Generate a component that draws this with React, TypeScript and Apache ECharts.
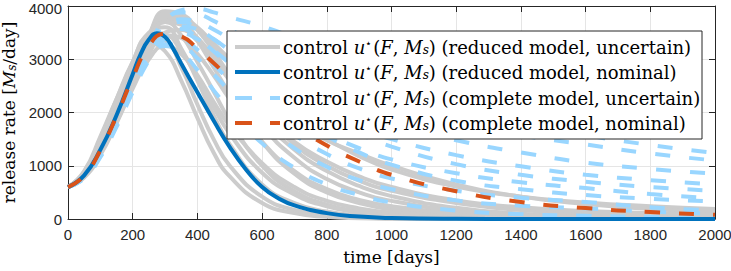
import React, { useEffect, useRef } from "react";
import * as echarts from "echarts";

const times = [0, 50, 100, 150, 200, 250, 300, 350, 400, 450, 500, 600, 700, 800, 900, 1000, 1200, 1400, 1600, 1800, 2000];

// reduced model, nominal (own, finer time grid around the peak)
const reducedNominalTimes = [0, 50, 100, 150, 200, 225, 250, 275, 300, 325, 350, 400, 450, 500, 550, 600, 650, 700, 800, 900, 1000, 1200, 1400, 1600, 1800, 2000];
const reducedNominal = [600, 820, 1300, 1950, 2720, 3100, 3370, 3490, 3420, 3200, 2920, 2380, 1850, 1350, 930, 600, 390, 255, 110, 45, 18, 3, 0, 0, 0, 0];
// complete model, nominal
const completeNominal = [600, 810, 1290, 1930, 2650, 3250, 3480, 3430, 3200, 2930, 2650, 2180, 1760, 1380, 1080, 830, 520, 320, 205, 130, 80];

// reduced model, uncertain
const reducedU1 = [600, 900, 1550, 2250, 2900, 3300, 3150, 2600, 1900, 1250, 800, 300, 110, 40, 15, 5, 0, 0, 0, 0, 0];
const reducedU2 = [600, 880, 1500, 2250, 2950, 3400, 3350, 2850, 2150, 1500, 1000, 420, 170, 70, 28, 10, 2, 0, 0, 0, 0];
const reducedU3 = [600, 860, 1450, 2200, 2950, 3500, 3600, 3200, 2600, 1950, 1400, 650, 300, 140, 65, 30, 6, 1, 0, 0, 0];
const reducedU4 = [600, 850, 1400, 2100, 2850, 3450, 3700, 3450, 2950, 2400, 1850, 1000, 520, 270, 140, 75, 22, 7, 2, 0, 0];
const reducedU5 = [600, 840, 1380, 2050, 2800, 3450, 3850, 3750, 3350, 2850, 2350, 1450, 850, 500, 300, 180, 70, 28, 12, 5, 2];
const reducedU6 = [600, 830, 1350, 2000, 2750, 3450, 3900, 3850, 3550, 3150, 2700, 1900, 1300, 900, 620, 430, 210, 100, 50, 25, 12];
const reducedU7 = [600, 820, 1320, 1950, 2700, 3400, 3850, 3800, 3600, 3300, 3000, 2400, 1900, 1500, 1180, 930, 610, 420, 310, 240, 190];
const reducedU8 = [600, 780, 1200, 1800, 2450, 3000, 3250, 3100, 2700, 2200, 1750, 1050, 600, 340, 200, 120, 45, 18, 7, 3, 1];
const reducedU9 = [600, 800, 1250, 1850, 2550, 3150, 3450, 3400, 3100, 2700, 2250, 1450, 900, 560, 360, 240, 110, 55, 28, 15, 8];
const reducedU10 = [600, 790, 1230, 1820, 2500, 3100, 3500, 3550, 3350, 3050, 2700, 2000, 1400, 1000, 720, 530, 300, 170, 100, 60, 35];
const reducedU11 = [600, 810, 1300, 1950, 2700, 3350, 3750, 3750, 3550, 3250, 2950, 2350, 1850, 1480, 1230, 1000, 650, 420, 280, 190, 130];
const reducedU12 = [600, 870, 1450, 2200, 2900, 3350, 3450, 3150, 2650, 2100, 1600, 870, 460, 240, 125, 65, 18, 5, 1, 0, 0];
const reducedU13 = [600, 820, 1330, 2000, 2750, 3400, 3800, 3700, 3400, 3000, 2600, 1750, 1150, 750, 500, 340, 160, 80, 40, 20, 10];
const reducedU14 = [600, 800, 1280, 1900, 2620, 3280, 3700, 3650, 3400, 3050, 2700, 2000, 1450, 1080, 800, 600, 350, 220, 150, 110, 90];

// complete model, uncertain
const completeU1 = [600, 780, 1200, 1800, 2500, 3200, 3700, 3920, 3950, 3880, 3790, 3620, 3400, 3150, 2900, 2650, 2200, 1850, 1580, 1390, 1240];
const completeU2 = [600, 800, 1250, 1860, 2560, 3250, 3720, 3880, 3850, 3720, 3560, 3250, 2950, 2680, 2430, 2200, 1800, 1570, 1400, 1230, 1100];
const completeU3 = [600, 790, 1220, 1820, 2520, 3180, 3600, 3750, 3700, 3560, 3380, 3000, 2650, 2330, 2050, 1800, 1480, 1250, 1060, 940, 850];
const completeU4 = [600, 810, 1270, 1900, 2600, 3250, 3620, 3700, 3580, 3380, 3150, 2700, 2320, 1990, 1720, 1500, 1200, 990, 830, 730, 650];
const completeU5 = [600, 770, 1180, 1760, 2430, 3050, 3480, 3620, 3560, 3380, 3160, 2700, 2260, 1900, 1600, 1360, 1030, 830, 700, 600, 530];
const completeU6 = [600, 800, 1250, 1880, 2580, 3200, 3550, 3570, 3400, 3150, 2880, 2380, 1950, 1600, 1330, 1120, 860, 690, 580, 470, 390];
const completeU7 = [600, 760, 1160, 1730, 2380, 2980, 3380, 3480, 3380, 3170, 2920, 2400, 1950, 1560, 1250, 1020, 720, 560, 450, 380, 330];
const completeU8 = [600, 790, 1230, 1830, 2500, 3080, 3380, 3370, 3180, 2900, 2600, 2050, 1580, 1220, 950, 760, 530, 400, 320, 220, 160];
const completeU9 = [600, 780, 1200, 1780, 2430, 3000, 3280, 3250, 3020, 2720, 2400, 1800, 1330, 980, 730, 560, 350, 250, 200, 140, 100];
const completeU10 = [600, 800, 1260, 1870, 2520, 3050, 3250, 3120, 2800, 2420, 2050, 1420, 960, 650, 450, 310, 160, 90, 60, 40, 30];

const reducedUncertain = [reducedU1, reducedU2, reducedU3, reducedU4, reducedU5, reducedU6, reducedU7, reducedU8, reducedU9, reducedU10, reducedU11, reducedU12, reducedU13, reducedU14];
const completeUncertain = [completeU1, completeU2, completeU3, completeU4, completeU5, completeU6, completeU7, completeU8, completeU9, completeU10];

const xTicks = { min: 0, max: 2000, interval: 200 };
const yTicks = { min: 0, max: 4000, interval: 1000 };

const legendLabels = [
  "(reduced model, uncertain)",
  "(reduced model, nominal)",
  "(complete model, uncertain)",
  "(complete model, nominal)",
];

const GRAY = "#cccccc";
const BLUE = "#0072bd";
const LIGHT = "#99d6ff";
const RED = "#d95319";
const SERIF = "'DejaVu Serif', serif";
const SANS = "'Liberation Sans', Arial, sans-serif";
const DASH = [15, 19];

const pairs = (vals: number[], ts: number[] = times) => ts.map((t, i) => [t, vals[i]]);

export default function App() {
  const ref = useRef<HTMLDivElement>(null);
  useEffect(() => {
    if (!ref.current) return;
    const chart = echarts.init(ref.current, null, { renderer: "svg" });
    const lineBase = {
      type: "line",
      showSymbol: false,
      smooth: 0.5,
      silent: true,
      animation: false,
      clip: true,
      emphasis: { disabled: true },
    };
    const series: any[] = [];
    reducedUncertain.forEach((v) =>
      series.push({ ...lineBase, data: pairs(v), lineStyle: { color: GRAY, width: 4 } })
    );
    completeUncertain.forEach((v) =>
      series.push({ ...lineBase, data: pairs(v), lineStyle: { color: LIGHT, width: 4, type: DASH } })
    );
    series.push({ ...lineBase, data: pairs(reducedNominal, reducedNominalTimes), lineStyle: { color: BLUE, width: 4 } });
    series.push({ ...lineBase, data: pairs(completeNominal), lineStyle: { color: RED, width: 4, type: DASH } });

    const mkRich = (fs: number) => ({
      n: { fontFamily: SERIF, fontSize: fs, color: "#000" },
      i: { fontFamily: SERIF, fontSize: fs, fontStyle: "italic", color: "#000" },
      sup: { fontFamily: SERIF, fontSize: 11, color: "#000", verticalAlign: "top", padding: [0, 1, 0, 0] },
      sub: { fontFamily: SERIF, fontSize: 12, fontStyle: "italic", color: "#000", verticalAlign: "bottom" },
    });
    const legendRich = mkRich(18);
    const axisRich = mkRich(17);
    const legendColors = [GRAY, BLUE, LIGHT, RED];
    const legendDashed = [false, false, true, true];
    const lx = 227, ly = 31, lw = 475, lh = 108;
    const rowY = [47, 72, 98, 123];
    const legendChildren: any[] = [
      { type: "rect", z: 100, shape: { x: lx, y: ly, width: lw, height: lh }, style: { fill: "#ffffff", stroke: "#262626", lineWidth: 1 } },
    ];
    legendLabels.forEach((lab, k) => {
      legendChildren.push({
        type: "line",
        z: 101,
        shape: { x1: 235, y1: rowY[k], x2: 280, y2: rowY[k] },
        style: { stroke: legendColors[k], lineWidth: 4, lineDash: legendDashed[k] ? [17, 18] : null },
      });
      legendChildren.push({
        type: "text",
        z: 101,
        x: 283,
        y: rowY[k],
        style: {
          text: "{n|control }{i|u}{sup|⋆}{n|(}{i|F}{n|, }{i|M}{sub|s}{n|) " + lab + "}",
          rich: legendRich,
          verticalAlign: "middle",
          align: "left",
        },
      });
    });

    const axisLineStyle = { color: "#262626", width: 1 };
    const plain = (v: number) => String(v);
    const yLabel = (v: number) => (v === yTicks.max ? "{top|" + v + "}" : String(v));
    chart.setOption({
      animation: false,
      grid: { left: 68, right: 16, top: 6, bottom: 52, containLabel: false, outerBoundsMode: "none" },
      xAxis: [
        {
          type: "value",
          ...xTicks,
          axisLine: { show: true, onZero: false, lineStyle: axisLineStyle },
          axisTick: { show: true, inside: true, length: 6, lineStyle: axisLineStyle },
          axisLabel: { fontFamily: SANS, fontSize: 15, color: "#262626", margin: 8, formatter: plain },
          splitLine: { show: true, lineStyle: { color: "#e5e5e5", width: 1 } },
          name: "{n|time [days]}",
          nameLocation: "middle",
          nameGap: 29,
          nameTextStyle: { rich: axisRich },
        },
        {
          type: "value",
          position: "top",
          ...xTicks,
          axisLine: { show: true, onZero: false, lineStyle: axisLineStyle },
          axisTick: { show: true, inside: true, length: 6, lineStyle: axisLineStyle },
          axisLabel: { show: false },
          splitLine: { show: false },
        },
      ],
      yAxis: [
        {
          type: "value",
          ...yTicks,
          axisLine: { show: true, onZero: false, lineStyle: axisLineStyle },
          axisTick: { show: true, inside: true, length: 6, lineStyle: axisLineStyle },
          axisLabel: {
            fontFamily: SANS,
            fontSize: 15,
            color: "#262626",
            margin: 6,
            formatter: yLabel,
            rich: { top: { fontFamily: SANS, fontSize: 15, color: "#262626", padding: [4, 0, 0, 0] } },
          },
          splitLine: { show: true, lineStyle: { color: "#e5e5e5", width: 1 } },
          name: "{n|release rate [}{i|M}{sub|s}{n|/day]}",
          nameLocation: "middle",
          nameRotate: 90,
          nameGap: 46,
          nameTextStyle: { rich: axisRich },
        },
        {
          type: "value",
          position: "right",
          ...yTicks,
          axisLine: { show: true, onZero: false, lineStyle: axisLineStyle },
          axisTick: { show: true, inside: true, length: 6, lineStyle: axisLineStyle },
          axisLabel: { show: false },
          splitLine: { show: false },
        },
      ],
      series,
      graphic: legendChildren,
    });
    return () => chart.dispose();
  }, []);
  return <div ref={ref} style={{ position: "absolute", left: 0, top: 0, width: 731, height: 271 }} />;
}
